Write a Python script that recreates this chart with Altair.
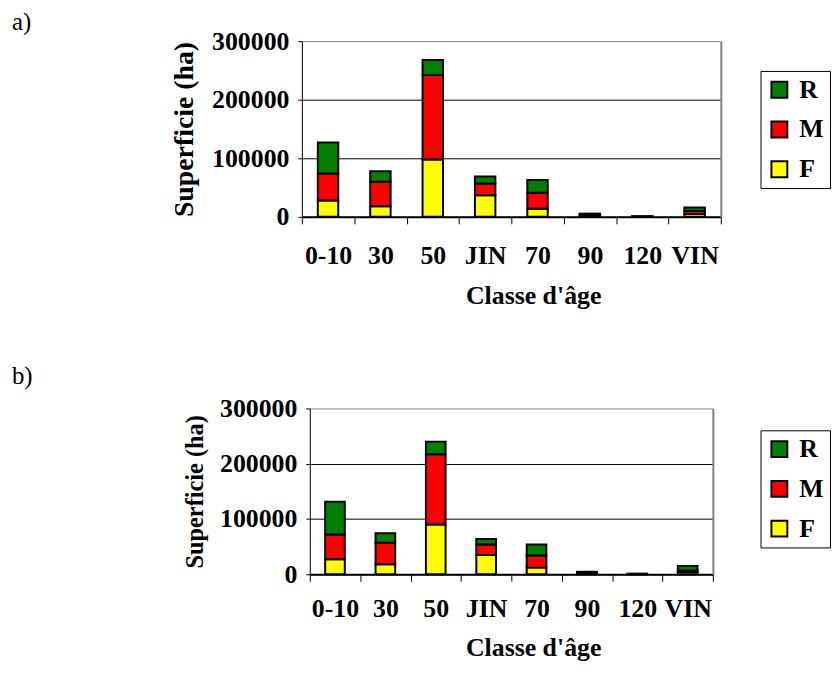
import altair as alt
import pandas as pd

classes = ["0-10", "30", "50", "JIN", "70", "90", "120", "VIN"]
groups = ["R", "M", "F"]
colors = ["#008000", "#FF0000", "#FFFF00"]

# panel a)
a_F = [28000, 18000, 98000, 37000, 14000, 2000, 300, 5000]
a_M = [46000, 42000, 144000, 20000, 27000, 2000, 400, 5000]
a_R = [53000, 18000, 26000, 12000, 22000, 1500, 300, 6000]

# panel b)
b_F = [27000, 18000, 90000, 35000, 12000, 1500, 300, 4000]
b_M = [45000, 39000, 127000, 19000, 22000, 1500, 300, 3000]
b_R = [59000, 17000, 23000, 10000, 20000, 1500, 400, 8000]

y_ticks = [0, 100000, 200000, 300000]

FONT = "Liberation Serif"
GREY = "#808080"


def frame(F, M, R):
    rows = []
    for i, c in enumerate(classes):
        for g, vals, o in (("F", F, 0), ("M", M, 1), ("R", R, 2)):
            rows.append({"classe": c, "groupe": g, "val": vals[i], "ord": o})
    return pd.DataFrame(rows)


def panel(df, label, w, h, x_start, title_offset, ytitle_size, ytitle_x,
          xtitle_x, xtitle_y, xlabel_pad, legend_x, legend_y):
    xscale = alt.Scale(paddingInner=0, paddingOuter=0, range=[x_start, w])
    yscale = alt.Scale(domain=[0, 300000], nice=False)
    x_enc = alt.X(
        "classe:N", sort=classes, scale=xscale,
        axis=alt.Axis(
            title="Classe d'âge", labelAngle=0, tickBand="extent",
            tickSize=7, tickColor="black", tickWidth=1,
            domainColor="black", domainWidth=2,
            labelFont=FONT, labelFontSize=26, labelFontWeight="bold",
            labelColor="black", labelPadding=xlabel_pad,
            titleFont=FONT, titleFontSize=26, titleFontWeight="bold",
            titleColor="black", titleX=xtitle_x, titleY=xtitle_y,
            titleBaseline="alphabetic",
        ),
    )
    bars = alt.Chart(df).mark_bar(
        stroke="black", strokeWidth=2, width=alt.RelativeBandSize(0.39)
    ).encode(
        x=x_enc,
        y=alt.Y(
            "val:Q", stack="zero", scale=yscale,
            axis=alt.Axis(
                title="Superficie (ha)", values=y_ticks, format="d",
                offset=-x_start,
                tickSize=4, tickColor="black", domainColor="black",
                domainWidth=1, grid=True,
                gridColor={"condition": {"test": "datum.value >= 300000",
                                         "value": GREY},
                           "value": "black"},
                gridWidth=1,
                labelFont=FONT, labelFontSize=26, labelFontWeight="bold",
                labelColor="black", labelPadding=9,
                titleFont=FONT, titleFontSize=ytitle_size,
                titleFontWeight="bold", titleColor="black",
                titleX=ytitle_x, titleBaseline="alphabetic",
            ),
        ),
        color=alt.Color(
            "groupe:N",
            scale=alt.Scale(domain=groups, range=colors),
            legend=alt.Legend(
                title=None, orient="none", legendX=legend_x, legendY=legend_y,
                symbolType="square", symbolSize=256, symbolStrokeColor="black",
                symbolStrokeWidth=2, symbolOpacity=1,
                labelFont=FONT, labelFontSize=26, labelFontWeight="bold",
                labelColor="black", labelOffset=7, rowPadding=14,
                padding=6, fillColor="white", strokeColor="black",
            ),
        ),
        order=alt.Order("ord:Q", sort="ascending"),
    )
    # invisible copy that only carries the grey right-hand frame line
    frame_right = alt.Chart(df).mark_bar(opacity=0).encode(
        x=x_enc,
        y=alt.Y(
            "sum(val):Q", scale=yscale,
            axis=alt.Axis(orient="right", labels=False, ticks=False,
                          grid=False, title=None, domainColor=GREY,
                          domainWidth=2),
        ),
    )
    return alt.layer(bars, frame_right).resolve_axis(y="independent").properties(
        width=w, height=h,
        view=alt.ViewBackground(strokeWidth=0),
        title=alt.TitleParams(
            label, anchor="start", frame="group", orient="top", dx=-292,
            offset=title_offset, baseline="alphabetic", font=FONT,
            fontSize=25, fontWeight="normal", color="black",
        ),
    )


top = panel(frame(a_F, a_M, a_R), "a)", 422, 177, 0, -27, 28, -110,
            233, 87, 19, 462, 30)
bottom = panel(frame(b_F, b_M, b_R), "b)", 414, 167, 8, -13, 24.5, -108,
               233, 82, 15, 462, 22)

chart = alt.concat(top, bottom, columns=1, spacing=56).resolve_scale(
    color="independent"
).properties(
    padding={"left": 4, "top": 0, "right": 0, "bottom": 0},
    background="white",
)

chart.save("out.html", embed_options={"renderer": "svg", "actions": False})
